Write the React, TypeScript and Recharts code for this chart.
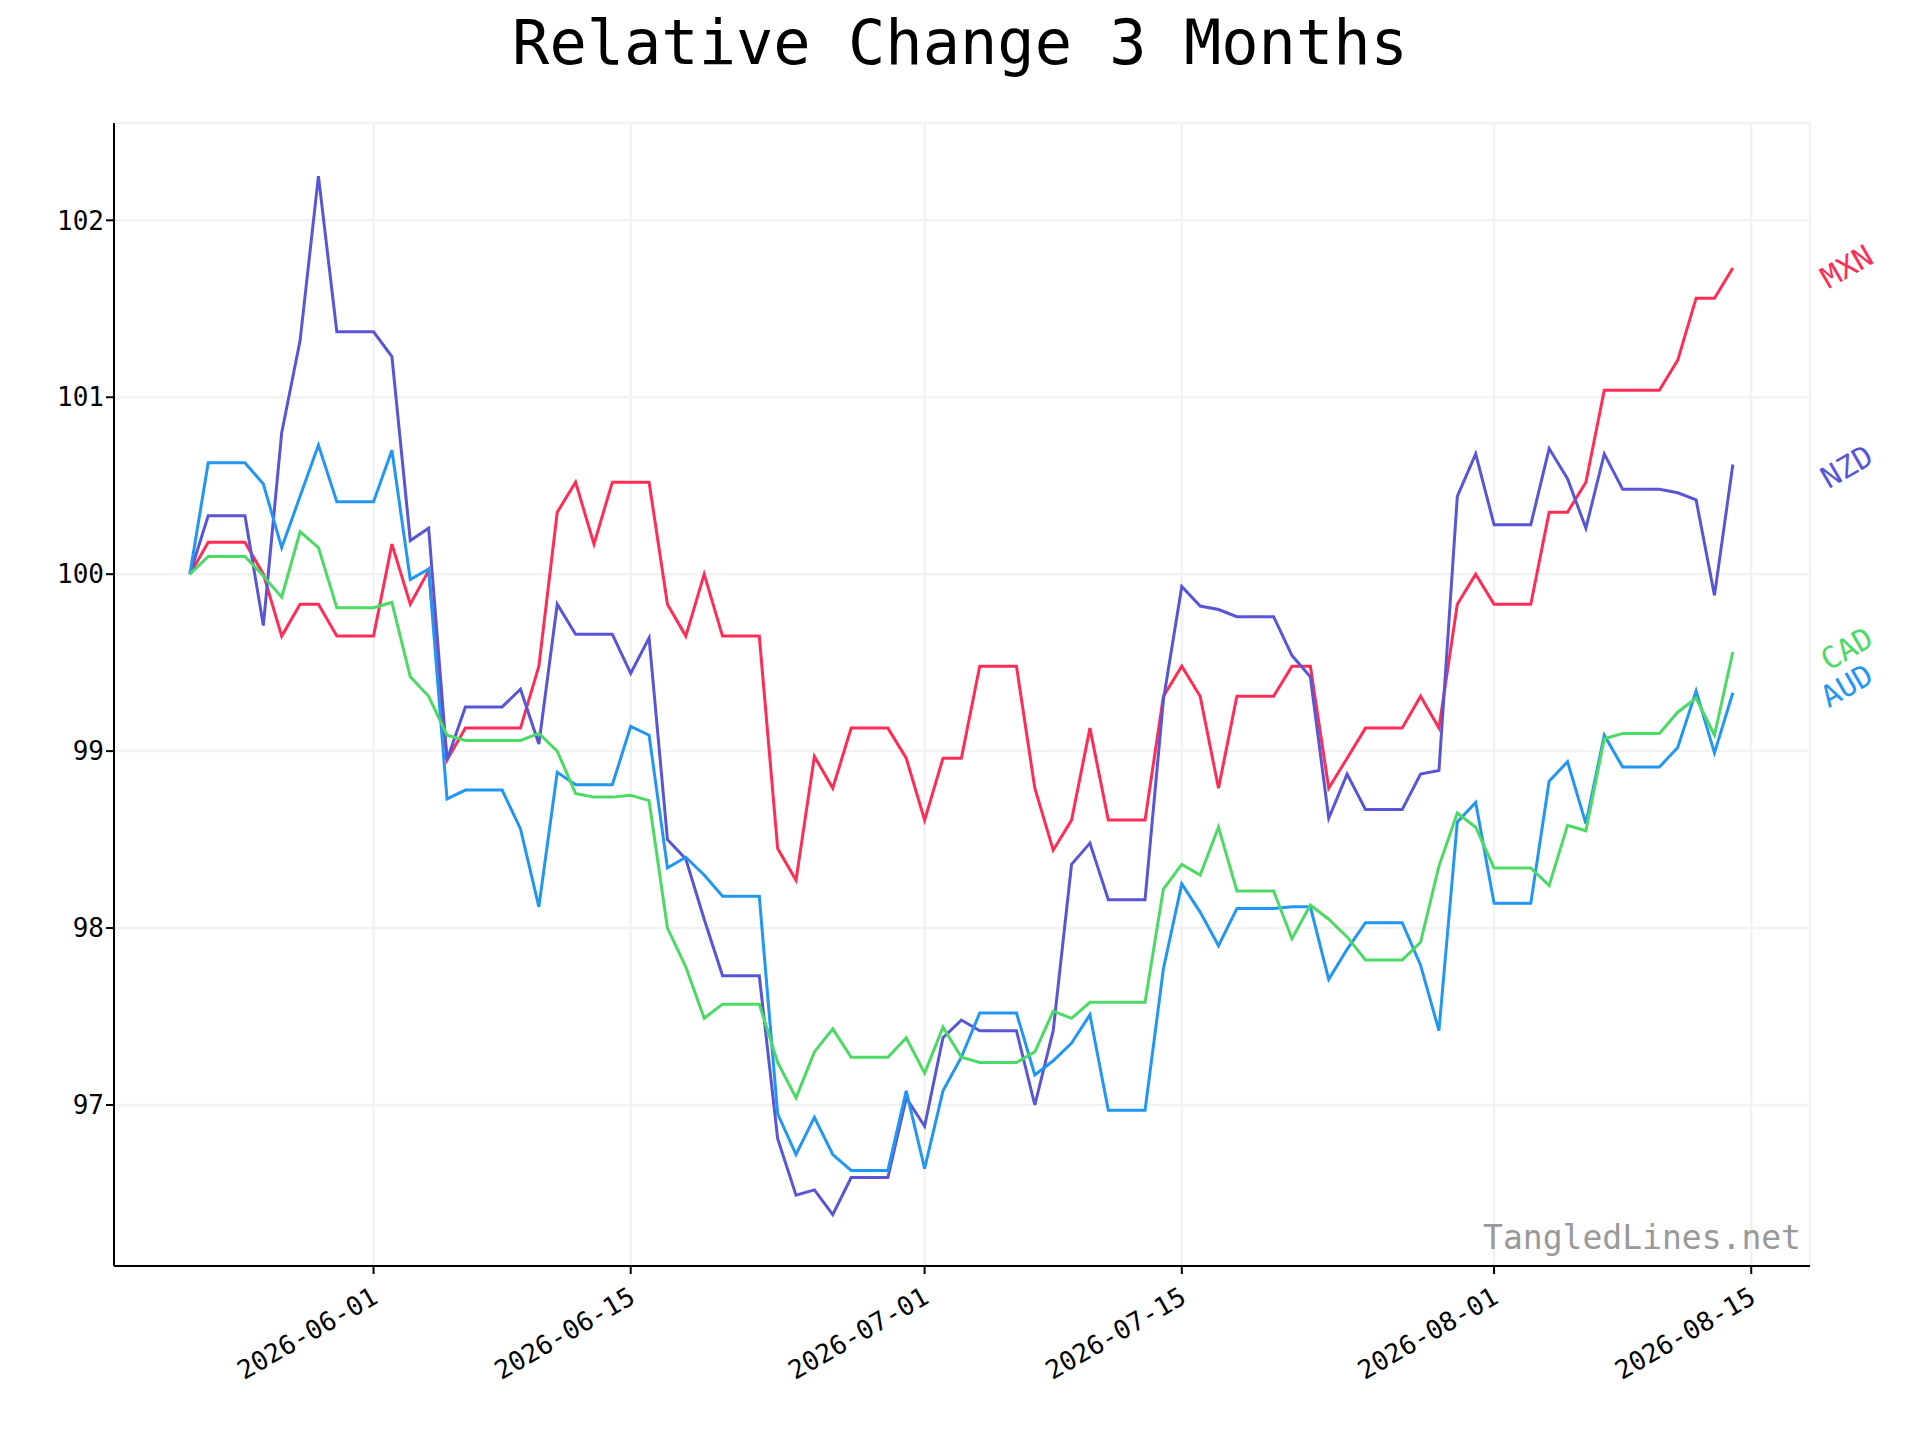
import React from "react";
import { LineChart, Line, XAxis, YAxis, CartesianGrid } from "recharts";

const startDate = "2026-05-22";
const mxn = [100,100.18,100.18,100.18,100.0,99.65,99.83,99.83,99.65,99.65,99.65,100.17,99.83,100.02,98.95,99.13,99.13,99.13,99.13,99.48,100.35,100.52,100.17,100.52,100.52,100.52,99.83,99.65,100.0,99.65,99.65,99.65,98.45,98.27,98.97,98.79,99.13,99.13,99.13,98.96,98.61,98.96,98.96,99.48,99.48,99.48,98.79,98.44,98.61,99.13,98.61,98.61,98.61,99.31,99.48,99.31,98.79,99.31,99.31,99.31,99.48,99.48,98.79,98.96,99.13,99.13,99.13,99.31,99.13,99.83,100.0,99.83,99.83,99.83,100.35,100.35,100.52,101.04,101.04,101.04,101.04,101.21,101.56,101.56,101.73];
const nzd = [100,100.33,100.33,100.33,99.71,100.8,101.32,102.25,101.37,101.37,101.37,101.23,100.19,100.26,98.95,99.25,99.25,99.25,99.35,99.04,99.83,99.66,99.66,99.66,99.44,99.64,98.5,98.39,98.05,97.73,97.73,97.73,96.81,96.49,96.52,96.38,96.59,96.59,96.59,97.04,96.88,97.38,97.48,97.42,97.42,97.42,97.0,97.42,98.36,98.48,98.16,98.16,98.16,99.29,99.93,99.82,99.8,99.76,99.76,99.76,99.54,99.42,98.62,98.87,98.67,98.67,98.67,98.87,98.89,100.44,100.68,100.28,100.28,100.28,100.71,100.54,100.26,100.68,100.48,100.48,100.48,100.46,100.42,99.88,100.62];
const aud = [100,100.63,100.63,100.63,100.51,100.15,100.44,100.73,100.41,100.41,100.41,100.7,99.97,100.03,98.73,98.78,98.78,98.78,98.56,98.12,98.88,98.81,98.81,98.81,99.14,99.09,98.34,98.4,98.3,98.18,98.18,98.18,96.95,96.72,96.93,96.72,96.63,96.63,96.63,97.08,96.64,97.08,97.27,97.52,97.52,97.52,97.17,97.25,97.35,97.51,96.97,96.97,96.97,97.77,98.25,98.09,97.9,98.11,98.11,98.11,98.12,98.12,97.71,97.88,98.03,98.03,98.03,97.79,97.42,98.6,98.71,98.14,98.14,98.14,98.83,98.94,98.59,99.09,98.91,98.91,98.91,99.02,99.34,98.99,99.33];
const cad = [100,100.1,100.1,100.1,99.99,99.87,100.24,100.15,99.81,99.81,99.81,99.84,99.42,99.31,99.09,99.06,99.06,99.06,99.06,99.1,99.0,98.76,98.74,98.74,98.75,98.72,98.0,97.78,97.49,97.57,97.57,97.57,97.24,97.04,97.3,97.43,97.27,97.27,97.27,97.38,97.18,97.44,97.27,97.24,97.24,97.24,97.3,97.53,97.49,97.58,97.58,97.58,97.58,98.22,98.36,98.3,98.57,98.21,98.21,98.21,97.94,98.13,98.05,97.95,97.82,97.82,97.82,97.92,98.35,98.65,98.57,98.34,98.34,98.34,98.24,98.58,98.55,99.07,99.1,99.1,99.1,99.22,99.3,99.09,99.56];
const tickDates = ["2026-06-01","2026-06-15","2026-07-01","2026-07-15","2026-08-01","2026-08-15"];
const yTicks = [97, 98, 99, 100, 101, 102];
const seriesNames = ["MXN", "NZD", "AUD", "CAD"];
const colors = ["#ff2d55", "#5856d6", "#2196f3", "#4cd964"];

const DAY = 86400000;
const t0 = Date.parse(startDate + "T00:00:00Z");
const dayIndex = (d: string) => Math.round((Date.parse(d + "T00:00:00Z") - t0) / DAY);
const fmt = (i: number) => new Date(t0 + i * DAY).toISOString().slice(0, 10);
const data = mxn.map((v, i) => ({ t: i, MXN: v, NZD: nzd[i], AUD: aud[i], CAD: cad[i] }));
const xTicks = tickDates.map(dayIndex);

const font = "'DejaVu Sans Mono', monospace";

const XTick = (p: any) => {
  const { x, y, payload } = p;
  return (
    <text x={x + 6} y={y + 26} textAnchor="end" transform={`rotate(-30 ${x + 6} ${y + 26})`} fontFamily={font} fontSize={26} fill="#000">
      {fmt(payload.value)}
    </text>
  );
};

const labels = [
  { n: "MXN", c: colors[0], x: 1847, y: 267 },
  { n: "NZD", c: colors[1], x: 1847, y: 467 },
  { n: "CAD", c: colors[3], x: 1847, y: 649 },
  { n: "AUD", c: colors[2], x: 1847, y: 686 },
];

export default function App() {
  return (
    <div style={{ position: "absolute", left: 0, top: 0, width: 1920, height: 1440, background: "#fff" }}>
      <div style={{ position: "absolute", left: 0, width: 1920, top: 6, textAlign: "center", fontFamily: font, fontSize: 62, color: "#000" }}>
        Relative Change 3 Months
      </div>
      <LineChart width={1920} height={1440} data={data} margin={{ top: 123, right: 110, left: 34, bottom: 74 }}>
        <CartesianGrid stroke="#f2f2f2" strokeWidth={2.5} />
        <XAxis dataKey="t" type="number" domain={[-4.13, 88.2]} ticks={xTicks} tick={<XTick />} height={100}
          axisLine={{ stroke: "#000", strokeWidth: 2 }} tickLine={{ stroke: "#000", strokeWidth: 2 }} tickSize={8} allowDataOverflow />
        <YAxis type="number" domain={[96.09, 102.55]} ticks={yTicks} width={80} allowDataOverflow
          axisLine={{ stroke: "#000", strokeWidth: 2 }} tickLine={{ stroke: "#000", strokeWidth: 2 }} tickSize={8}
          tick={{ fontFamily: font, fontSize: 26, fill: "#000" }} />
        {seriesNames.map((s, i) => (
          <Line key={s} dataKey={s} stroke={colors[i]} strokeWidth={3} dot={false} isAnimationActive={false} type="linear" />
        ))}
      </LineChart>
      {labels.map((l) => (
        <div key={l.n} style={{ position: "absolute", left: l.x - 45, top: l.y - 18, width: 90, textAlign: "center", fontFamily: font, fontSize: 30, color: l.c, transform: "rotate(-30deg)", lineHeight: "36px" }}>
          {l.n}
        </div>
      ))}
      <div style={{ position: "absolute", right: 119, top: 1218, fontFamily: font, fontSize: 33, color: "#999" }}>
        TangledLines.net
      </div>
    </div>
  );
}
